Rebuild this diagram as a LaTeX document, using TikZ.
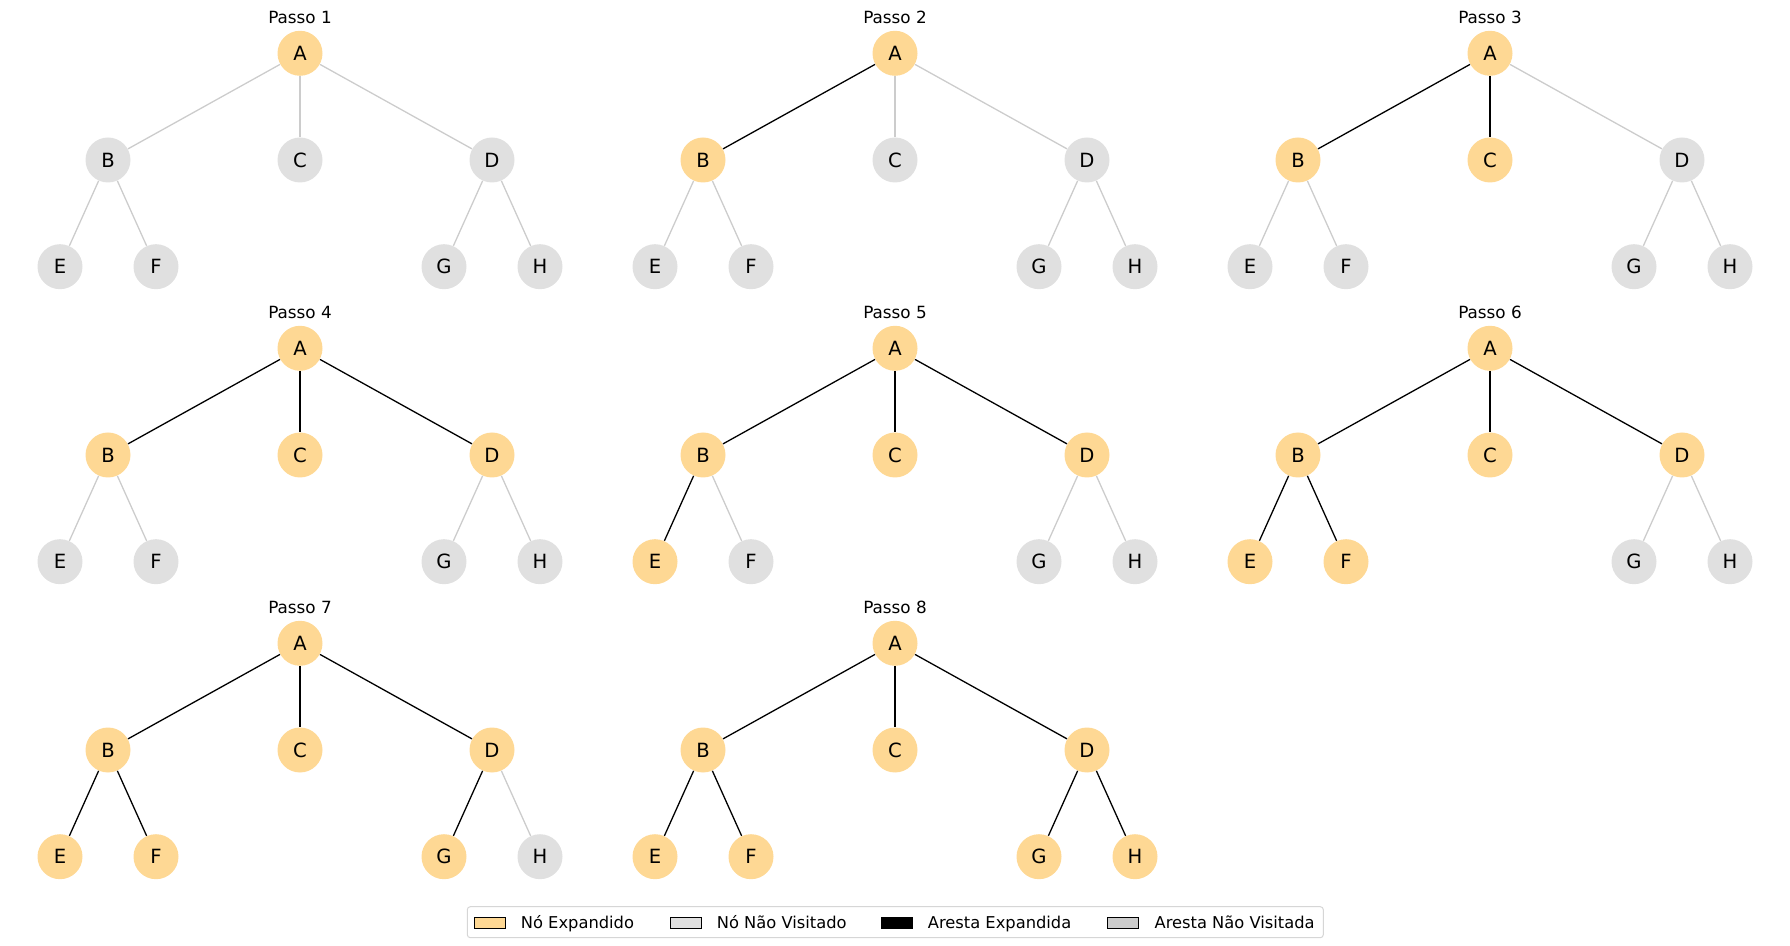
\documentclass[tikz,border=0pt]{standalone}
\usepackage{fontspec}
\setmainfont{DejaVu Sans}
\definecolor{expanded}{RGB}{254,216,148}
\definecolor{unvisited}{RGB}{224,224,224}
\definecolor{edgegray}{RGB}{204,204,204}
\definecolor{framegray}{RGB}{214,214,214}
\begin{document}
\begin{tikzpicture}[x=0.5pt,y=-0.5pt,
  treenode/.style={circle,minimum size=22.5pt,inner sep=0pt,fill=#1,
    font=\fontsize{9.8}{11}\selectfont},
  treeedge/.style={draw=#1,line width=0.65pt},
  steptitle/.style={anchor=base,inner sep=0pt,font=\fontsize{8.4}{10}\selectfont},
  legendbox/.style={draw=black,line width=0.5pt,fill=#1},
  legendtext/.style={anchor=base west,inner sep=0pt,font=\fontsize{8.15}{10}\selectfont},
  legendframe/.style={draw=framegray,line width=0.5pt,rounded corners=1.5pt,fill=white}]
\useasboundingbox (0,0) rectangle (1790,946);

% one BFS tree per step: nodes 1..s are expanded, edges into them are expanded
\foreach \s in {1,...,8} {
  \pgfmathtruncatemacro\col{mod(\s-1,3)}
  \pgfmathtruncatemacro\row{div(\s-1,3)}
  \pgfmathsetmacro\ax{300+595*\col}
  \pgfmathsetmacro\ay{53.3+295*\row}
  \node[steptitle] (title\s) at (\ax,\ay-29.3) {Passo \s};
  \foreach \n/\i/\dx/\dy in {A/1/0/0, B/2/-192/106.7, C/3/0/106.7, D/4/192/106.7,
                             E/5/-240/213.4, F/6/-144/213.4, G/7/144/213.4, H/8/240/213.4} {
    \ifnum\i>\s \def\fc{unvisited}\else\def\fc{expanded}\fi
    \node[treenode=\fc] (\n\s) at (\ax+\dx,\ay+\dy) {\n};
  }
  \foreach \p/\c/\i in {A/B/2, A/C/3, A/D/4, B/E/5, B/F/6, D/G/7, D/H/8} {
    \ifnum\i>\s \def\ec{edgegray}\else\def\ec{black}\fi
    \draw[treeedge=\ec] (\p\s) -- (\c\s);
  }
}

% legend
\draw[legendframe] (467.3,906.7) rectangle (1323.3,937.7);
\foreach \lx/\fc/\txt [count=\k] in {474/expanded/Nó Expandido, 670/unvisited/Nó Não Visitado,
                                     881/black/Aresta Expandida, 1107.7/edgegray/Aresta Não Visitada} {
  \draw[legendbox=\fc] (\lx,917.3) rectangle ++(31,11);
  \node[legendtext] (legend\k) at (\lx+46.5,928.3) {\txt};
}
\end{tikzpicture}
\end{document}
